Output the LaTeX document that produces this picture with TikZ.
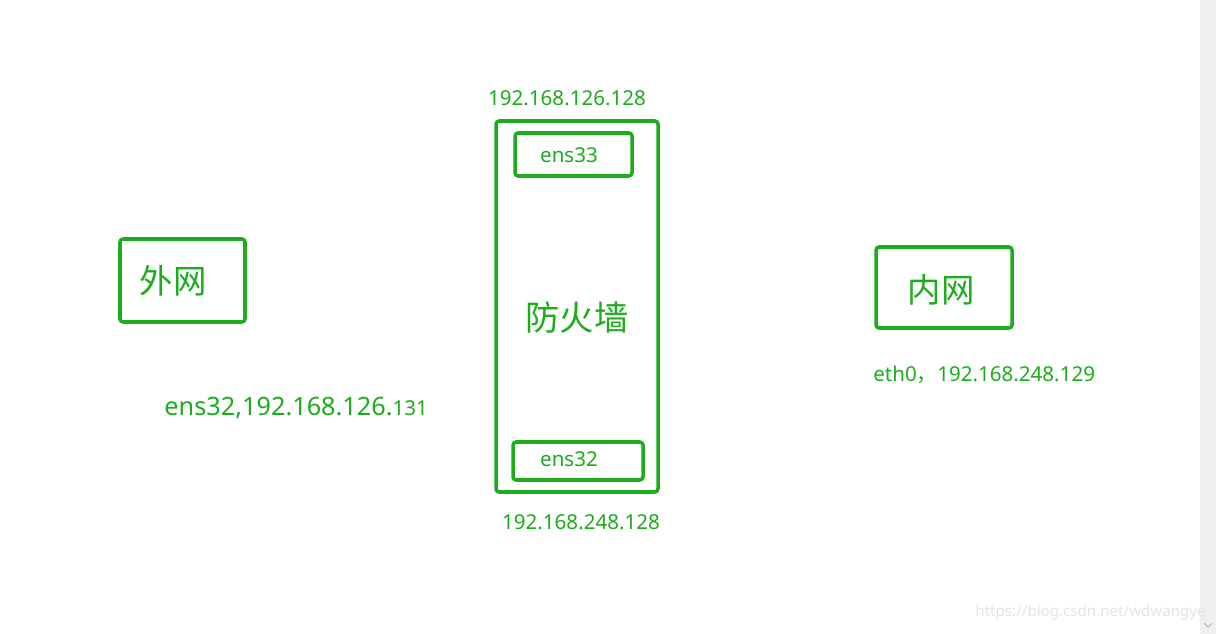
\documentclass[tikz,border=0pt]{standalone}
\usepackage{fontspec}
\setmainfont{Noto Sans}
\newfontfamily\cjk{Noto Sans CJK SC}
\definecolor{fwgreen}{RGB}{28,172,28}
\definecolor{markgray}{RGB}{228,228,228}
\definecolor{bargray}{RGB}{240,240,240}
\tikzset{
  box/.style={draw=fwgreen, line width=2pt, rounded corners=1.8pt},
  addr/.style={text=fwgreen, inner sep=0pt, font=\fontsize{11.7pt}{14pt}\selectfont},
  netname/.style={text=fwgreen, inner sep=0pt, font=\cjk\fontsize{19pt}{22pt}\selectfont}
}
\begin{document}
\begin{tikzpicture}[x=0.02cm,y=-0.02cm]
        \useasboundingbox[fill=white] (0,0) rectangle (1216,634);
        % scroll bar of the screenshot
        \fill[bargray] (1200,0) rectangle (1216,634);
        \draw[gray!60, line width=0.6pt] (1204,623) -- (1208,627) -- (1212,623);
        % boxes
        \draw[box] (120,239) rectangle (245,322);
        \draw[box] (496,121) rectangle (658,492);
        \draw[box] (515,133) rectangle (632,176);
        \draw[box] (513,442) rectangle (643,480);
        \draw[box] (876,247) rectangle (1012,328);
        % texts
        \node[netname] at (173,281) (outer) {外网};
        \node[netname, font=\cjk\fontsize{19.5pt}{24pt}\selectfont] at (577,317) (fw) {防火墙};
        \node[netname] at (941,290) (inner) {内网};
        \node[addr] at (569,155) (ensA) {ens33};
        \node[addr] at (569,459) (ensB) {ens32};
        \node[addr] at (567,98)  (ipA) {192.168.126.128};
        \node[addr] at (581,522) (ipB) {192.168.248.128};
        \node[addr, anchor=west] at (164,408) (ipC)
          {\fontsize{14.4pt}{17pt}\selectfont ens32,192.168.126.\fontsize{11.7pt}{14pt}\selectfont 131};
        \node[addr, anchor=west] at (873,375) (ipD) {eth0{\cjk ，}192.168.248.129};
        \node[text=markgray, inner sep=0pt, anchor=east, font=\fontsize{8.6pt}{10pt}\selectfont]
          at (1206,613) (mark) {https://blog.csdn.net/wdwangye};
      \end{tikzpicture}
\end{document}
